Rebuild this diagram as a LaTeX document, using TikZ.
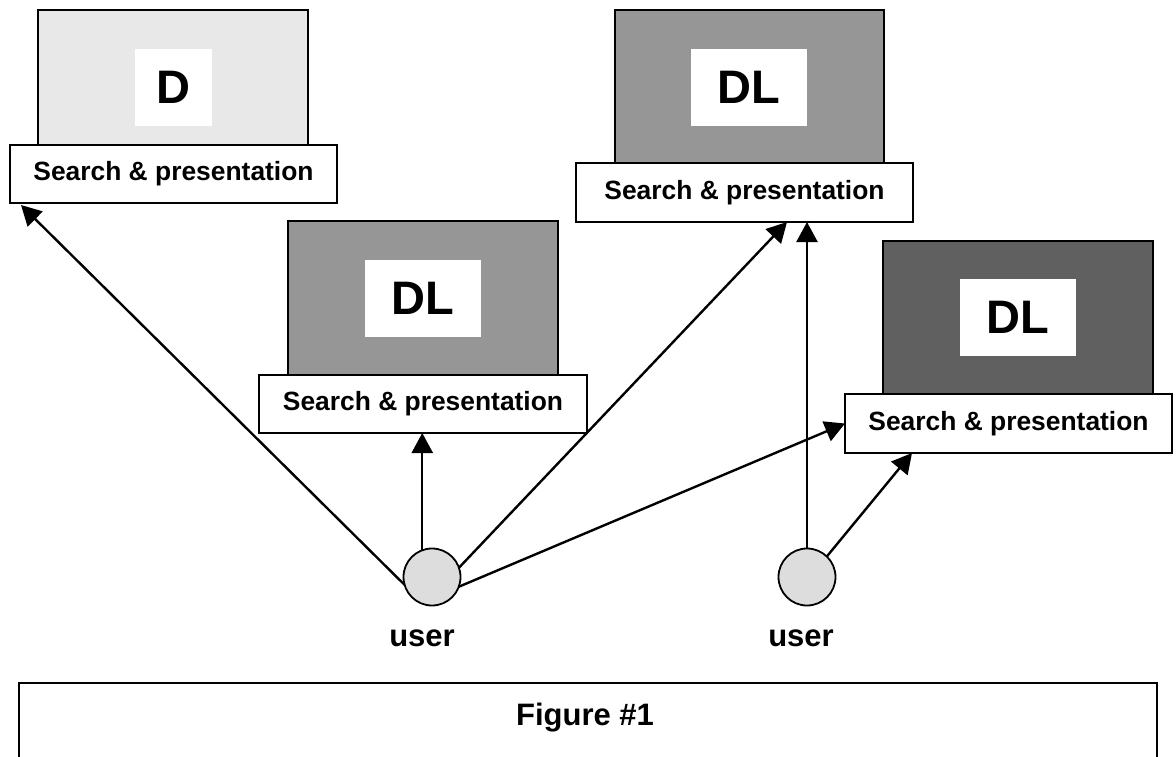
\documentclass[tikz,border=0pt]{standalone}
\usepackage{fontspec}
\setmainfont{Liberation Sans}
\usetikzlibrary{arrows.meta,calc}
\definecolor{lightfill}{HTML}{E8E8E8}
\definecolor{midfill}{HTML}{969696}
\definecolor{darkfill}{HTML}{606060}
\definecolor{userfill}{HTML}{DDDDDD}
\begin{document}
\begin{tikzpicture}[x=1pt,y=-1pt,
  dlbox/.style={draw=black, line width=1.6pt, minimum width=270pt, inner sep=0pt, outer sep=0pt},
  labelbox/.style={fill=white, minimum height=77pt, inner sep=0pt, font=\fontsize{47}{50}\selectfont\bfseries},
  searchbox/.style={draw=black, fill=white, line width=1.6pt, minimum height=58pt, inner sep=0pt, outer sep=0pt, font=\fontsize{26.4}{30}\selectfont\bfseries},
  usernode/.style={circle, draw=black, fill=userfill, line width=1.8pt, minimum size=57pt, inner sep=0pt, outer sep=0pt},
  userlabel/.style={font=\fontsize{31}{34}\selectfont\bfseries, anchor=base, inner sep=0pt},
  conn/.style={line width=2.4pt, -{Triangle[length=20pt,width=21pt]}}
]
\useasboundingbox (0,0) rectangle (1176,756);
\clip (0,0) rectangle (1176,756);
\fill[white] (0,0) rectangle (1176,756);

% DL stacks
\node[dlbox, fill=lightfill, minimum height=135pt] (b1) at (173,77.5) {};
\node[labelbox, minimum width=77pt] (l1) at (173.5,87.5) {D};
\node[searchbox, minimum width=327pt] (s1) at (173.5,174) {Search \& presentation};

\node[dlbox, fill=midfill, minimum height=154pt] (b2) at (423,298) {};
\node[labelbox, minimum width=116pt] (l2) at (423,298.5) {DL};
\node[searchbox, minimum width=328pt] (s2) at (423,404) {Search \& presentation};

\node[dlbox, fill=midfill, minimum height=153pt, minimum width=269pt] (b3) at (749.5,86.5) {};
\node[labelbox, minimum width=116pt] (l3) at (749,87.5) {DL};
\node[searchbox, minimum width=337pt, minimum height=59pt] (s3) at (744.5,192.5) {Search \& presentation\hspace{14pt}};

\node[dlbox, fill=darkfill, minimum height=154pt] (b4) at (1018,318) {};
\node[labelbox, minimum width=116pt] (l4) at (1018,317.5) {DL};
\node[searchbox, minimum width=327pt, minimum height=59pt] (s4) at (1008.5,423.5) {Search \& presentation};

% users
\node[usernode] (u1) at (432,577) {};
\node[usernode] (u2) at (807,577) {};
\node[userlabel] (ul1) at (422,646) {user};
\node[userlabel] (ul2) at (801,646) {user};

% connectors
\draw[conn] (u1.196) -- ($(s1.south west)+(11,2)$);
\draw[conn] (u1.110) -- (u1.110 |- s2.south);
\draw[conn] (u1.19) -- ($(s3.south)+(42.5,0)$);
\draw[conn] (u1.340) -- (s4.west);
\draw[conn] (u2.north) -- (u2.north |- s3.south);
\draw[conn] (u2.46) -- ($(s4.south west)+(67,0)$);

% caption frame
\node[draw=black, line width=2pt, minimum width=1138pt, minimum height=120pt, anchor=north west, inner sep=0pt, outer sep=0pt] (fig) at (19,683) {};
\node[font=\fontsize{31}{34}\selectfont\bfseries, anchor=base, inner sep=0pt] (figtext) at (585,725) {Figure \#1};
\end{tikzpicture}
\end{document}
